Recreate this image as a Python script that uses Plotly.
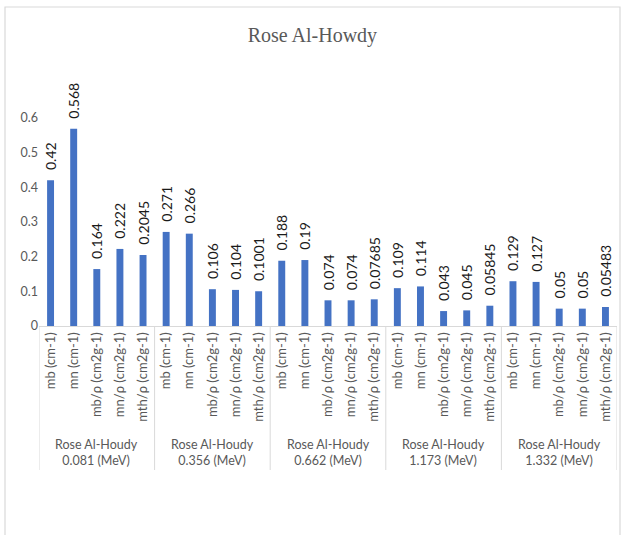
import plotly.graph_objects as go

# Energy groups and the five quantities measured at each energy
groups = ["0.081", "0.356", "0.662", "1.173", "1.332"]
group_prefix = "Rose Al-Houdy"
quantities = ["mb (cm-1)", "mn (cm-1)", "mb/ρ (cm2g-1)", "mn/ρ (cm2g-1)", "mth/ρ (cm2g-1)"]

vals_0081 = [0.42, 0.568, 0.164, 0.222, 0.2045]
vals_0356 = [0.271, 0.266, 0.106, 0.104, 0.1001]
vals_0662 = [0.188, 0.19, 0.074, 0.074, 0.07685]
vals_1173 = [0.109, 0.114, 0.043, 0.045, 0.05845]
vals_1332 = [0.129, 0.127, 0.05, 0.05, 0.05483]

y_ticks = [0, 0.1, 0.2, 0.3, 0.4, 0.5, 0.6]
y_tick_text = ["0", "0.1", "0.2", "0.3", "0.4", "0.5", "0.6"]

series = [vals_0081, vals_0356, vals_0662, vals_1173, vals_1332]
values = [v for grp in series for v in grp]
labels = [q for _ in groups for q in quantities]
xpos = list(range(len(values)))

W, H = 621, 535
L, R, T, B = 39, 4, 83, 209
pw, ph = W - L - R, H - T - B


def px_x(p):
    return (p - L) / pw


def px_y(p):
    return (H - B - p) / ph


GRAY = "#595959"
LINE = "#d9d9d9"
FONT = "Lato, 'Open Sans', sans-serif"
PAD = "\u00a0\u00a0"  # small gap between bar top and its rotated value label

fig = go.Figure(
    go.Bar(
        x=xpos,
        y=values,
        width=0.3,
        marker=dict(color="#4472C4", line=dict(width=0)),
        text=[PAD + str(v) for v in values],
        textposition="outside",
        textangle=-90,
        constraintext="none",
        cliponaxis=False,
        textfont=dict(family=FONT, size=14, color="#1a1a1a"),
        hoverinfo="skip",
    )
)

shapes = []
n = len(quantities)
# outer chart frame
shapes.append(dict(type="rect", xref="paper", yref="paper",
                   x0=px_x(5), x1=px_x(620), y0=px_y(545), y1=px_y(7),
                   line=dict(color=LINE, width=1.2), layer="below"))
# group dividers below the category axis
for k in range(len(groups) + 1):
    xb = k * n - 0.5
    shapes.append(dict(type="line", xref="x", yref="paper",
                       x0=xb, x1=xb, y0=0, y1=px_y(470),
                       line=dict(color=LINE, width=1)))

annotations = []
for k, g in enumerate(groups):
    annotations.append(dict(
        x=k * n + (n - 1) / 2, y=px_y(435), xref="x", yref="paper",
        text=f"{group_prefix}<br>{g} (MeV)", showarrow=False,
        yanchor="top", xanchor="center",
        font=dict(family=FONT, size=12.5, color=GRAY), align="center",
    ))

fig.update_layout(
    width=W, height=H,
    margin=dict(l=L, r=R, t=T, b=B),
    paper_bgcolor="white", plot_bgcolor="white",
    showlegend=False,
    title=dict(text="Rose Al-Howdy", x=0.503, xanchor="center",
               y=1 - 35 / H, yanchor="middle",
               font=dict(family="'Liberation Serif', serif", size=20, color=GRAY)),
    xaxis=dict(
        range=[-0.5, len(values) - 0.5],
        tickmode="array", tickvals=xpos, ticktext=labels,
        tickangle=-90, showgrid=False, zeroline=False,
        showline=True, linecolor=LINE, linewidth=1, ticks="",
        tickfont=dict(family=FONT, size=13, color=GRAY),
    ),
    yaxis=dict(
        range=[0, 0.7], tickmode="array", tickvals=y_ticks, ticktext=y_tick_text,
        showgrid=False, zeroline=False, showline=False, ticks="",
        tickfont=dict(family=FONT, size=12.5, color=GRAY),
    ),
    shapes=shapes,
    annotations=annotations,
)

fig.write_html("out.html")
